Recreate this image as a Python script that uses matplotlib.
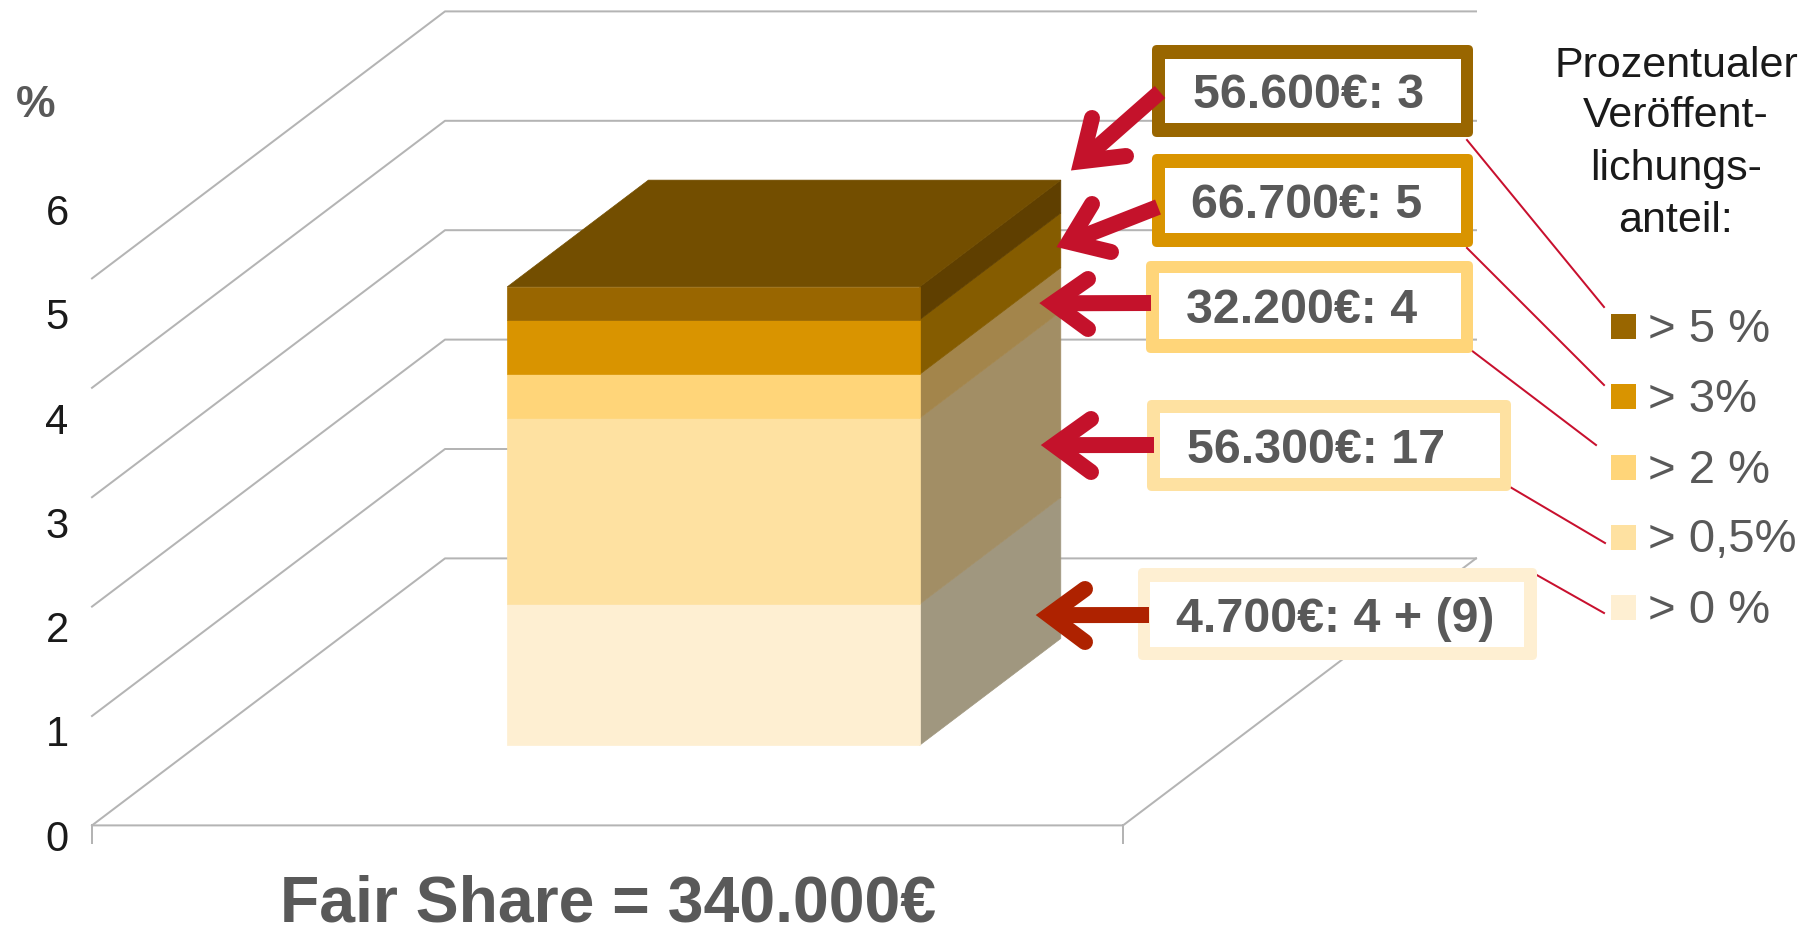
"""Fair Share: gestapelte 3D-Säule mit Beschriftung und Legende"""
import numpy as np
import matplotlib
matplotlib.use('Agg')
import matplotlib.pyplot as plt
import matplotlib.patches as mpatches

plt.rcParams['font.family'] = ['Liberation Sans', 'DejaVu Sans']

# Daten, von unten nach oben
seg_heights = [1.29, 1.70, 0.40, 0.50, 0.30]
seg_front = ['#FEEFD2', '#FEE1A1', '#FFD579', '#D99400', '#996600']
seg_side = ['#A0977F', '#A28E65', '#A3854B', '#855C00', '#5F3F00']
top_color = '#734E00'
grid_levels = [0, 1, 2, 3, 4, 5]

tick_labels = ['0', '1', '2', '3', '4', '5', '6']
tick_base = [851, 746, 642, 538, 434, 329, 225]

box_labels = ['4.700€: 4 + (9)', '56.300€: 17', '32.200€: 4', '66.700€: 5', '56.600€: 3']
box_outer = [(1138, 568, 1537, 660), (1147, 400, 1511, 491), (1146, 261, 1473, 353),
             (1152, 154, 1473, 247), (1152, 45, 1473, 137)]
box_inner = [(1150, 582, 1524, 647), (1160, 413, 1500, 478), (1159, 273, 1461, 339),
             (1165, 168, 1461, 233), (1165, 59, 1461, 123)]
box_text = [(1176, 632), (1187, 463), (1186, 323), (1191, 218), (1193, 108)]

legend_labels = ['> 0 %', '> 0,5%', '> 2 %', '> 3%', '> 5 %']
legend_y = [607, 537.5, 467, 396, 326.5]
legend_base = [623, 552, 483, 412, 342]
legend_title = ['Prozentualer', 'Veröffent-', 'lichungs-', 'anteil:']
legend_title_base = [77, 127, 180, 232]

leaders = [((1535, 574), (1604, 613)), ((1505, 484), (1605, 543)), ((1467, 347), (1596, 445)),
           ((1467, 248), (1604, 385)), ((1467, 140), (1604, 307))]

# Pfeile: Start, Spitze, zwei Enden der Spitze
arrows = [((1149, 615), (1031, 615), (1085, 589), (1085, 642), '#AE2200'),
          ((1154, 445), (1036, 445), (1091, 419), (1091, 472), '#C4122B'),
          ((1151, 303), (1034, 303), (1088, 279), (1088, 329), '#C4122B'),
          ((1158, 207), (1052, 249), (1092, 204), (1111, 252), '#C4122B'),
          ((1160, 92), (1067, 174), (1092, 118), (1126, 156), '#C4122B')]

GRID = '#B4B4B4'
GRAY = '#595959'
DARK = '#1A1A1A'
RED = '#C8102E'
PX = 0.72  # Punkte pro Pixel bei dpi=100

# Projektion: Breite u und Tiefe d (0-1), Höhe z in Prozent
X0, Y0 = 92, 825.4
WIDTH, UNIT = 1031, 109.4
DX, DY = 353, -267


def proj(u, d, z):
    return X0 + WIDTH*u + DX*d, Y0 + DY*d - UNIT*z


def poly(ax, pts, color, zorder=3):
    xs, ys = zip(*[proj(*p) for p in pts])
    ax.fill(xs, ys, fc=color, ec=color, lw=0.5, zorder=zorder)


fig = plt.figure(figsize=(18.16, 9.31), dpi=100)
ax = fig.add_axes([0, 0, 1, 1])
ax.set_xlim(0, 1816)
ax.set_ylim(931, 0)
ax.set_axis_off()

# Gitterlinien
for z in grid_levels:
    x, y = zip(proj(0, 0, z), proj(0, 1, z), proj(1, 1, z))
    ax.plot(x, y, color=GRID, lw=2*PX, zorder=1)
x, y = zip(proj(0, 0, 0), proj(1, 0, 0), proj(1, 1, 0))
ax.plot(x, y, color=GRID, lw=2*PX, zorder=1)
for u in (0, 1):
    x0, y0 = proj(u, 0, 0)
    ax.plot([x0, x0], [y0, y0 + 18], color=GRID, lw=2*PX, zorder=1)

# Säule
u0, u1, d0, d1 = 0.30, 0.70, 0.30, 0.70
bottoms = np.concatenate([[0], np.cumsum(seg_heights)])
for i, h in enumerate(seg_heights):
    z0, z1 = bottoms[i], bottoms[i] + h
    poly(ax, [(u1, d0, z0), (u1, d1, z0), (u1, d1, z1), (u1, d0, z1)], seg_side[i])
    poly(ax, [(u0, d0, z0), (u1, d0, z0), (u1, d0, z1), (u0, d0, z1)], seg_front[i], zorder=4)
ztop = bottoms[-1]
poly(ax, [(u0, d0, ztop), (u1, d0, ztop), (u1, d1, ztop), (u0, d1, ztop)], top_color)

# Achsenbeschriftung
for lab, yb in zip(tick_labels, tick_base):
    ax.text(57, yb, lab, ha='center', va='baseline', fontsize=30, color=DARK)
ax.text(16, 117, '%', ha='left', va='baseline', fontsize=32, fontweight='bold', color=GRAY)
ax.text(280, 922, 'Fair Share = 340.000€', ha='left', va='baseline',
        fontsize=46.4, fontweight='bold', color=GRAY)

# Verbindungslinien zur Legende
for (a, b) in leaders:
    ax.plot([a[0], b[0]], [a[1], b[1]], color=RED, lw=2*PX, zorder=5)

# Kästen
for i, lab in enumerate(box_labels):
    xa, ya, xb, yb = box_outer[i]
    ax.add_patch(mpatches.FancyBboxPatch((xa + 5, ya + 5), xb - xa - 10, yb - ya - 10,
                                         boxstyle='round,pad=5,rounding_size=5',
                                         fc=seg_front[i], ec='none', zorder=6))
    xa, ya, xb, yb = box_inner[i]
    ax.add_patch(mpatches.Rectangle((xa, ya), xb - xa, yb - ya, fc='white', ec='none', zorder=7))
    ax.text(box_text[i][0], box_text[i][1], lab, ha='left', va='baseline', fontsize=34.8,
            fontweight='bold', color=GRAY, zorder=8)

# Pfeile
LW = 16
for start, tip, arm1, arm2, c in arrows:
    s, t = np.array(start, float), np.array(tip, float)
    a1, a2 = np.array(arm1, float), np.array(arm2, float)
    w1, w2 = (a1 - t)/np.linalg.norm(a1 - t), (a2 - t)/np.linalg.norm(a2 - t)
    half = np.arccos(np.clip(np.dot(w1, w2), -1, 1))/2
    vertex = t + (w1 + w2)/np.linalg.norm(w1 + w2)*(LW/2)/np.sin(half)
    ax.plot([s[0], vertex[0]], [s[1], vertex[1]], color=c, lw=LW*PX, solid_capstyle='butt', zorder=9)
    ax.plot([a1[0], vertex[0], a2[0]], [a1[1], vertex[1], a2[1]], color=c, lw=LW*PX,
            solid_capstyle='round', solid_joinstyle='miter', zorder=9)

# Legende
for lab, yb in zip(legend_title, legend_title_base):
    ax.text(1676, yb, lab, ha='center', va='baseline', fontsize=31, color=DARK)
for i, lab in enumerate(legend_labels):
    ax.add_patch(mpatches.Rectangle((1611, legend_y[i] - 12.5), 25, 25, fc=seg_front[i], ec='none'))
    ax.text(1648, legend_base[i], lab, ha='left', va='baseline', fontsize=34, color=GRAY)

plt.savefig('out.png', dpi=100)
plt.close()
